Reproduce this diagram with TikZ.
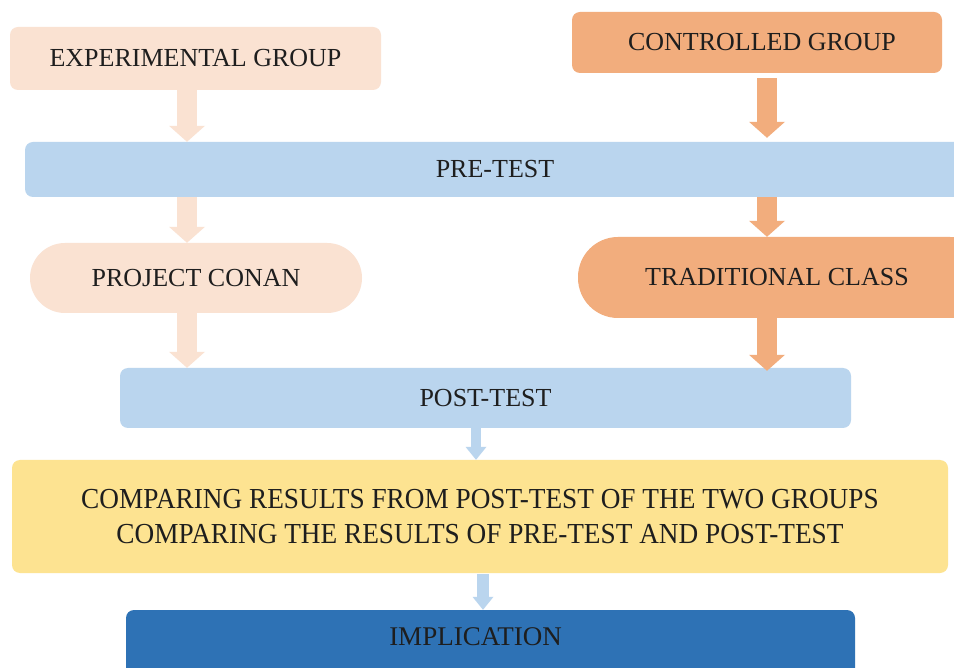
\documentclass[tikz,border=0pt]{standalone}
\usepackage{fontspec}
\setmainfont{Liberation Serif}
\newfontfamily\condserif[FakeStretch=0.94]{Liberation Serif}
\usetikzlibrary{arrows.meta}
\definecolor{peach}{HTML}{FAE2D2}
\definecolor{orng}{HTML}{F2AD7D}
\definecolor{lblue}{HTML}{BAD5EE}
\definecolor{yel}{HTML}{FDE391}
\definecolor{dblue}{HTML}{2E72B5}
\definecolor{ink}{HTML}{1E1E1E}
\tikzset{
  box/.style={rounded corners=8pt, inner sep=3pt, text=ink, font=\fontsize{26}{35}\selectfont, align=center},
  stadium/.style={box, rounded corners=#1},
  blk/.style={line width=20pt, -{Triangle[width=36pt,length=16pt,line width=0pt]}},
  sblk/.style={line width=10pt, -{Triangle[width=21pt,length=13pt,line width=0pt]}},
}
\begin{document}
\begin{tikzpicture}[x=1pt,y=-1pt]
\useasboundingbox (0,0) rectangle (954,668);
\clip (0,0) rectangle (954,668);
\fill[white] (0,0) rectangle (954,668);
% nodes
\node[box, fill=peach, minimum width=371pt, minimum height=63pt] (exp) at (195.5,58.5) {EXPERIMENTAL GROUP};
\node[box, fill=orng, minimum width=370pt, minimum height=61pt] (ctrl) at (757,42.5) {\hspace*{10pt}CONTROLLED GROUP};
\node[box, fill=lblue, minimum width=940pt, minimum height=55pt] (pre) at (495,169.5) {PRE-TEST};
\node[stadium=35pt, fill=peach, minimum width=332pt, minimum height=70pt] (conan) at (196,278) {PROJECT CONAN};
\node[stadium=40pt, fill=orng, minimum width=412pt, minimum height=81pt] (trad) at (784,277.5) {TRADITIONAL CLASS\hspace*{14pt}};
\node[box, fill=lblue, minimum width=731pt, minimum height=60pt] (post) at (485.5,398) {POST-TEST};
\node[box, fill=yel, minimum width=936pt, minimum height=113pt, font=\condserif\fontsize{29}{35}\selectfont] (comp) at (480,516.5) {COMPARING RESULTS FROM POST-TEST OF THE TWO GROUPS\\COMPARING THE RESULTS OF PRE-TEST AND POST-TEST};
\node[box, fill=dblue, minimum width=729pt, minimum height=90pt, text depth=36pt, font=\fontsize{27}{35}\selectfont] (impl) at (490.5,655) {IMPLICATION\hspace*{30pt}};
% connector columns
\coordinate (lx) at (187,0);
\coordinate (rx) at (767,0);
\coordinate (mx) at (476,0);
\coordinate (nx) at (483,0);
% connectors
\draw[blk, draw=peach, color=peach] (exp.south -| lx) -- (pre.north -| lx);
\draw[blk, draw=orng, color=orng, shorten <=5pt, shorten >=4pt] (ctrl.south -| rx) -- (pre.north -| rx);
\draw[blk, draw=peach, color=peach] (pre.south -| lx) -- (conan.north -| lx);
\draw[blk, draw=orng, color=orng] (pre.south -| rx) -- (trad.north -| rx);
\draw[blk, draw=peach, color=peach] (conan.south -| lx) -- (post.north -| lx);
\draw[blk, draw=orng, color=orng, shorten >=-3pt] (trad.south -| rx) -- (post.north -| rx);
\draw[sblk, draw=lblue, color=lblue] (post.south -| mx) -- (comp.north -| mx);
\draw[sblk, line width=12pt, draw=lblue, color=lblue, shorten <=1pt] (comp.south -| nx) -- (impl.north -| nx);
\end{tikzpicture}
\end{document}
